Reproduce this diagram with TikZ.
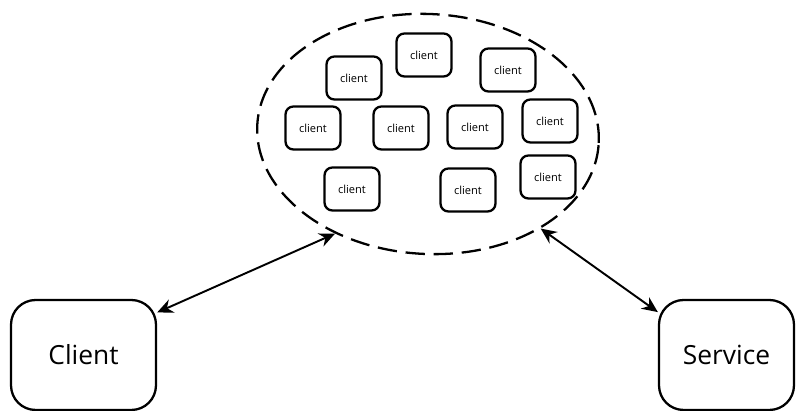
\documentclass[tikz,border=0pt]{standalone}
\usepackage{fontspec}
\setmainfont{Open Sans}
\usetikzlibrary{shapes.geometric,arrows.meta,positioning}

\tikzset{
  member/.style={draw, line width=1.3pt, rounded corners=4.5pt, minimum width=1.1cm, minimum height=0.86cm, inner sep=0pt, font=\fontsize{6.3}{7}\selectfont},
  party/.style={draw, line width=1.3pt, rounded corners=14pt, minimum height=2.2cm, inner sep=0pt, font=\fontsize{15}{18}\selectfont},
  link/.style={line width=1.1pt, {Stealth[length=9pt,width=8pt]}-{Stealth[length=9pt,width=8pt]}}
}

\begin{document}
\begin{tikzpicture}[x=0.02cm, y=-0.02cm]
  \useasboundingbox (0,0) rectangle (796,411);
  % pool of clients
  \node[draw, ellipse, dash pattern=on 11pt off 5pt, line width=1.3pt, rotate=-3, minimum width=6.84cm, minimum height=4.8cm, inner sep=0pt] (pool) at (428,134) {};
  \foreach \x/\y/\name in {354/78/c1, 424/55/c2, 508/70/c3, 313/128/c4, 401/128/c5, 475/127/c6, 550/121/c7, 352/189/c8, 468/190/c9, 548/177/c10}
    \node[member] (\name) at (\x,\y) {client};
  % the two parties
  \node[party, minimum width=2.9cm] (client) at (83.5,355) {Client};
  \node[party, minimum width=2.7cm] (service) at (726.5,355) {Service};
  % links
  \draw[link] (client.30) -- (pool.230);
  \draw[link] (pool.323) -- (service.148);
\end{tikzpicture}
\end{document}
